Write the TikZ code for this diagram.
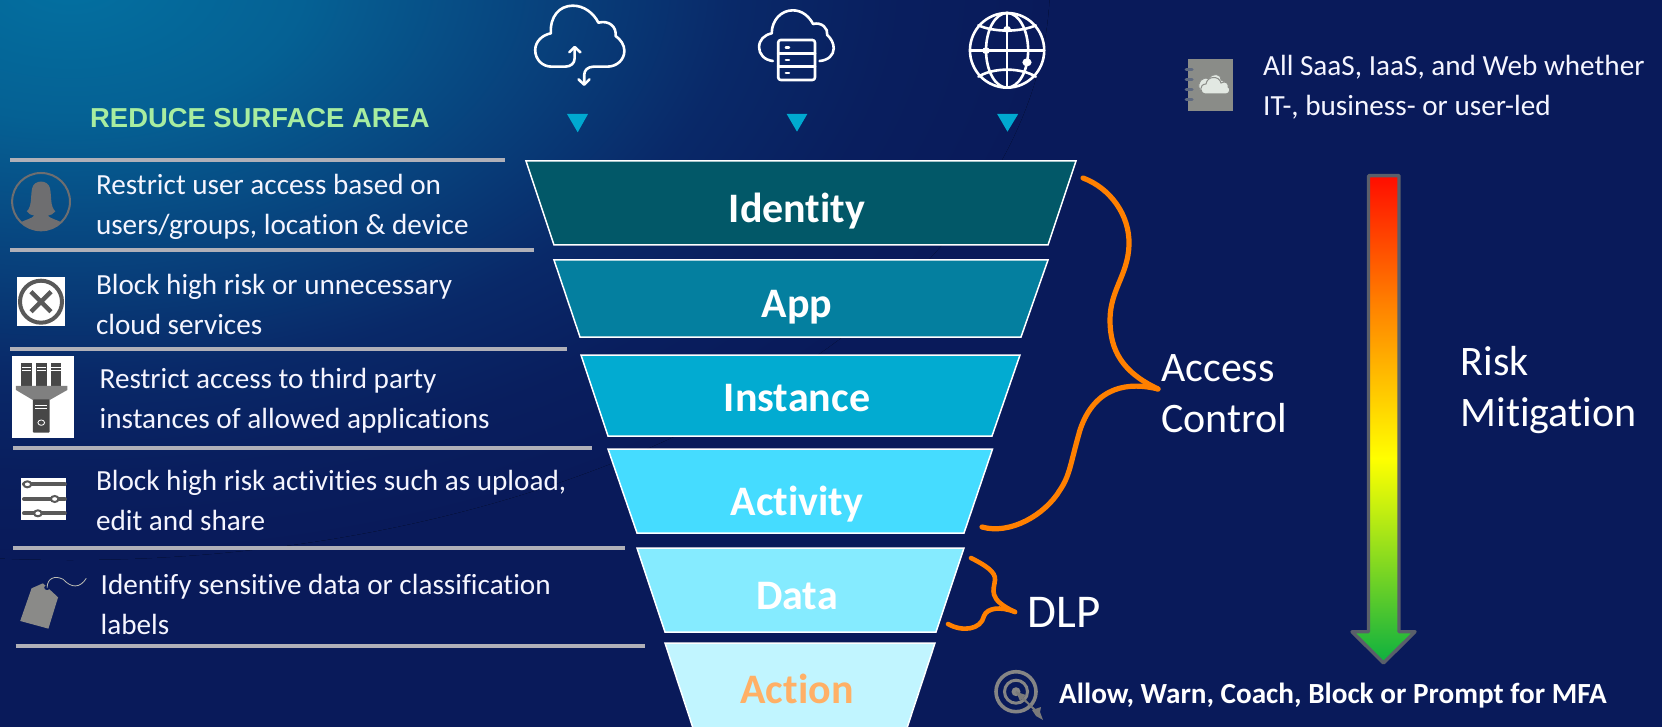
\documentclass[tikz,border=0pt]{standalone}
\usepackage{fontspec}
\setmainfont{Carlito}[Ligatures=NoCommon]
\newfontfamily\arialfont{Liberation Sans}
\pgfdeclareradialshading{bgshade}{\pgfpointorigin}{rgb(0bp)=(0.012,0.44,0.63); rgb(6bp)=(0.02,0.38,0.58); rgb(12bp)=(0.03,0.26,0.49); rgb(17bp)=(0.035,0.16,0.41); rgb(21bp)=(0.0353,0.12,0.37); rgb(25bp)=(0.0353,0.102,0.353); rgb(50bp)=(0.0353,0.102,0.353)}
\pgfdeclareverticalshading{riskshade}{100bp}{rgb(0bp)=(0.05,0.69,0.25); rgb(25bp)=(0.05,0.69,0.25); rgb(41bp)=(0.78,0.94,0.06); rgb(46bp)=(1,1,0); rgb(62bp)=(1,0.5,0); rgb(75bp)=(1,0.05,0); rgb(100bp)=(1,0.05,0)}
\definecolor{bgbase}{rgb}{0.0353,0.102,0.353}
\definecolor{rule}{HTML}{B0B0B8}
\definecolor{brace}{HTML}{FF8000}
\definecolor{tri}{HTML}{00A9D0}
\definecolor{icongray}{HTML}{6E6E70}
\definecolor{noteg}{HTML}{8A8C88}
\definecolor{notel}{HTML}{E2E8E2}
\definecolor{ringc}{HTML}{5F6A80}
\tikzset{
  stagebox/.style={draw=white,line width=1.5pt,line join=miter},
  stagetext/.style={anchor=base,inner sep=0pt,font=\fontsize{42}{42}\selectfont\bfseries,text=white},
  itemtext/.style={anchor=base west,inner sep=0pt,align=left,text=white!96!blue,font=\fontsize{29.2}{40}\selectfont},
  bigtext/.style={anchor=base west,inner sep=0pt,align=left,text=white,font=\fontsize{42}{51}\selectfont},
  sepline/.style={draw=rule,line width=3.6pt},
  wire/.style={draw=white,line width=2.6pt,line cap=round,line join=round},
  bracepath/.style={draw=brace,line width=5.2pt,line cap=round,line join=round},
  downtri/.style={fill=tri}
}
\begin{document}
\begin{tikzpicture}[x=1pt,y=-1pt]
\useasboundingbox (0,0) rectangle (1662,727);
\fill[bgbase] (0,0) rectangle (1662,727);
\begin{scope}
\clip (0,0) rectangle (1662,727);
\fill[shading=bgshade] (70,-20) ellipse [x radius=980, y radius=580];
\end{scope}

% separators
\draw[sepline] (10,160) -- (505,160);
\draw[sepline] (10,250) -- (533.5,250);
\draw[sepline] (10,349) -- (566.5,349);
\draw[sepline] (13,448) -- (592,448);
\draw[sepline] (13,548) -- (625,548);
\draw[sepline] (15.6,646) -- (645,646);

% funnel
\filldraw[stagebox,fill={rgb,255:red,2;green,88;blue,104}] (526,161) -- (1076,161) -- (1048,245) -- (554,245) -- cycle;
\filldraw[stagebox,fill={rgb,255:red,4;green,127;blue,159}] (554,260) -- (1048,260) -- (1021,337) -- (580,337) -- cycle;
\filldraw[stagebox,fill={rgb,255:red,2;green,171;blue,209}] (581,355) -- (1020,355) -- (992,436) -- (608,436) -- cycle;
\filldraw[stagebox,fill={rgb,255:red,69;green,220;blue,255}] (608,449) -- (992.5,449) -- (964,533) -- (637,533) -- cycle;
\filldraw[stagebox,fill={rgb,255:red,133;green,235;blue,255}] (637,548) -- (964,548) -- (936,632) -- (665,632) -- cycle;
\filldraw[stagebox,fill={rgb,255:red,193;green,245;blue,255}] (665,643) -- (935,643) -- (907,728) -- (693,728) -- cycle;
\node[stagetext] (identity) at (797,223) {Identity};
\node[stagetext] (app) at (797,317) {App};
\node[stagetext] (instance) at (797,411) {Instance};
\node[stagetext] (activity) at (797,515) {Activity};
\node[stagetext] (data) at (797,609) {Data};
\node[stagetext,text={rgb,255:red,255;green,176;blue,102}] (action) at (797,703) {Action};

% left texts
\node[anchor=base west,inner sep=0pt,text={rgb,255:red,168;green,237;blue,160},font=\arialfont\fontsize{27.4}{30}\selectfont\bfseries] (reduce) at (90,127.7) {REDUCE SURFACE AREA};
\node[itemtext] (t1) at (95.8,234.7) {Restrict user access based on\\users/groups, location \& device};
\node[itemtext] (t2) at (95.8,334.5) {Block high risk or unnecessary\\cloud services};
\node[itemtext] (t3) at (99.5,428.7) {Restrict access to third party\\instances of allowed applications};
\node[itemtext] (t4) at (95.8,530.5) {Block high risk activities such as upload,\\edit and share};
\node[itemtext] (t5) at (100.5,634.5) {Identify sensitive data or classification\\labels};

% right texts
\node[itemtext] (t6) at (1263,115.5) {All SaaS, IaaS, and Web whether\\IT-, business- or user-led};
\node[bigtext] (access) at (1161,432) {Access\\Control};
\node[bigtext] (risk) at (1460.5,426) {Risk\\Mitigation};
\node[bigtext,font=\fontsize{47}{51}\selectfont] (dlp) at (1027.5,627.5) {DLP};
\node[anchor=base west,inner sep=0pt,text=white,font=\fontsize{29.2}{30}\selectfont\bfseries] (allow) at (1059,703) {Allow, Warn, Coach, Block or Prompt for MFA};

% braces
\coordinate (acA) at (1083,178);
\coordinate (acTip) at (1158,389);
\coordinate (acB) at (982,527);
\draw[bracepath] (acA) .. controls (1110,188) and (1130,215) .. (1129,245) .. controls (1128,275) and (1110,290) .. (1110,320) .. controls (1110,350) and (1122,372) .. (acTip);
\draw[bracepath] (acTip) .. controls (1130,382) and (1095,385) .. (1080,430) .. controls (1070,465) and (1070,475) .. (1060,490) .. controls (1045,515) and (1010,535) .. (acB);
\coordinate (dlA) at (971,558);
\coordinate (dlTip) at (1015,612);
\coordinate (dlB) at (948,624);
\draw[bracepath,line width=4.6pt] (dlA) .. controls (985,565) and (996,572) .. (995,580) .. controls (994,590) and (987,599) .. (dlTip);
\draw[bracepath,line width=4.6pt] (dlTip) .. controls (1000,606) and (987,608) .. (984,616) .. controls (981,630) and (962,632) .. (dlB);

% risk arrow
\filldraw[shading=riskshade,draw={rgb,255:red,90;green,95;blue,106},line width=3.4pt,line join=round] (1368.5,175.7) -- (1399,175.7) -- (1399,631.7) -- (1415,631.7) -- (1383.5,663) -- (1352,631.7) -- (1368.5,631.7) -- cycle;

% triangles and top icons (zoom coordinates)
\begin{scope}[shift={(500,0)},x=0.3827pt,y=-0.3333pt]
\fill[downtri] (175,342) -- (230,342) -- (203,397) -- cycle;
\fill[downtri] (749,342) -- (803,342) -- (776,395) -- cycle;
\fill[downtri] (1299,342) -- (1354,342) -- (1326,395) -- cycle;
% cloud with arrows
\draw[wire] (195,145) -- (195,175) .. controls (195,190) and (185,200) .. (170,200) -- (135,200) .. controls (110,200) and (92,178) .. (92,150) .. controls (92,125) and (110,105) .. (133,100) .. controls (130,50) and (155,17) .. (190,17) .. controls (220,17) and (245,40) .. (257,68) .. controls (285,60) and (305,80) .. (302,108) .. controls (315,118) and (325,135) .. (325,152) .. controls (325,180) and (305,200) .. (280,200) -- (245,200) .. controls (230,200) and (220,210) .. (220,225) -- (220,252);
\draw[wire] (181,157) -- (195,141) -- (210,157);
\draw[wire] (205,238) -- (220,254) -- (234,238);
% cloud with server
\draw[wire] (713,183) .. controls (690,180) and (677,162) .. (677,142) .. controls (677,120) and (690,105) .. (710,100) .. controls (710,60) and (735,31) .. (765,31) .. controls (790,31) and (808,50) .. (818,72) .. controls (840,65) and (858,85) .. (855,105) .. controls (865,115) and (872,130) .. (872,145) .. controls (872,165) and (858,181) .. (835,183);
\draw[wire,rounded corners=2.5pt] (727,120) rectangle (823,240);
\draw[wire] (727,160) -- (823,160);
\draw[wire] (727,200) -- (823,200);
\draw[wire] (747,142) -- (755,142);
\draw[wire] (747,180) -- (755,180);
\draw[wire] (747,219) -- (755,219);
% globe
\draw[wire] (1325,151) ellipse [x radius=97, y radius=112];
\draw[wire] (1325,151) ellipse [x radius=55, y radius=112];
\draw[wire] (1230,151) -- (1420,151);
\draw[wire] (1325,39) -- (1325,263);
\draw[wire] (1250,76) .. controls (1290,97) and (1360,97) .. (1400,76);
\draw[wire] (1250,230) .. controls (1290,202) and (1360,202) .. (1400,230);
\fill[white] (1325,88) ellipse [x radius=10, y radius=10];
\fill[white] (1270,152) ellipse [x radius=10, y radius=10];
\fill[white] (1377,187) ellipse [x radius=12, y radius=12];
\end{scope}

% notebook icon
\fill[noteg] (1188,59) rectangle (1233,111);
\foreach \ry in {69.5,79.5,90,100}
  \draw[line width=3pt,line cap=round,draw=ringc] (1186,\ry) -- (1192,\ry);
\filldraw[draw=noteg,line width=0.8pt,fill=notel] (1200,90) .. controls (1196,82) and (1203,76) .. (1209,79) .. controls (1212,72) and (1222,74) .. (1221,80) .. controls (1226,80) and (1228,90) .. (1222,90) -- cycle;
\filldraw[fill=notel,draw=noteg,line width=1pt] (1206,94) .. controls (1199,94) and (1199,84) .. (1206,84) .. controls (1207,76) and (1219,75) .. (1221,83) .. controls (1226,80) and (1229,84) .. (1228,87) .. controls (1231,88) and (1230,94) .. (1226,94) -- cycle;

% user icon
\begin{scope}[x=0.3571pt,y=-0.3333pt]
\draw[draw=icongray,line width=2pt] (115,605) ellipse [x radius=81, y radius=86];
\fill[icongray] (75,634) .. controls (90,620) and (85,590) .. (90,565) .. controls (95,538) and (135,538) .. (140,565) .. controls (145,590) and (140,620) .. (155,634) .. controls (150,642) and (142,646) .. (134,647) .. controls (140,655) and (160,660) .. (172,667) .. controls (155,683) and (135,692) .. (115,692) .. controls (95,692) and (75,683) .. (58,667) .. controls (70,660) and (90,655) .. (96,647) .. controls (88,646) and (80,642) .. (75,634) -- cycle;
\end{scope}

% block icon
\fill[white] (17,277) rectangle (65,325.7);
\draw[draw=black!65,line width=4pt] (41,301.7) circle (21);
\draw[draw=black!65,line width=4.4pt] (31,291.7) -- (51,311.7) (51,291.7) -- (31,311.7);

% server funnel icon
\fill[white] (12,356) rectangle (74,437.7);
\begin{scope}[shift={(0,340)},x=0.4209pt,y=-0.3333pt]
\foreach \sx in {50,85,120}{
  \fill[black!72] (\sx,70) rectangle (\sx+26,140);
  \draw[white,line width=0.7pt] (\sx+2,82) -- (\sx+24,82) (\sx+2,92) -- (\sx+24,92);
}
\fill[black!50] (38,138) -- (160,138) -- (160,150) -- (118,180) -- (78,180) -- (38,150) -- cycle;
\fill[black!72,rounded corners=1pt] (78,178) rectangle (118,278);
\draw[white,line width=0.7pt] (84,195) -- (112,195) (84,206) -- (112,206);
\draw[white,line width=0.8pt] (98,248) ellipse [x radius=8, y radius=8];
\end{scope}

% sliders icon
\fill[white] (21,478) rectangle (66,520);
\begin{scope}[shift={(0,340)},x=0.4209pt,y=-0.3333pt]
\foreach \sy/\kx in {433/65,477/130,520/90}{
  \draw[draw=black!65,line width=4pt,line cap=round] (57,\sy) -- (154,\sy);
  \filldraw[fill=white,draw=black!65,line width=2pt] (\kx,\sy) ellipse [x radius=9, y radius=9];
}
% tag icon
\fill[fill={rgb,255:red,138;green,138;blue,136}] (102,730) -- (138,772) -- (115,866) -- (48,843) -- (75,745) -- cycle;
\fill[bgbase] (112,743) ellipse [x radius=7, y radius=7];
\draw[line width=0.8pt,draw={rgb,255:red,190;green,190;blue,180}] (112,743) .. controls (112,715) and (130,705) .. (150,718) .. controls (170,745) and (190,745) .. (205,715);
\end{scope}

% target icon
\draw[draw=black!48,line width=3.6pt] (1016,691.7) circle (20);
\draw[draw=black!48,line width=3pt] (1016,691.7) circle (11.5);
\fill[black!48] (1016,691.7) circle (4.5);
\draw[draw=black!52,line width=2pt] (1016,691.7) -- (1038,713);
\fill[black!52] (1016,691.7) -- (1026,695) -- (1020,701) -- cycle;
\fill[black!52] (1032,710) -- (1041,707) -- (1040,712) -- (1043,720) -- (1036,716) -- cycle;
\end{tikzpicture}
\end{document}
